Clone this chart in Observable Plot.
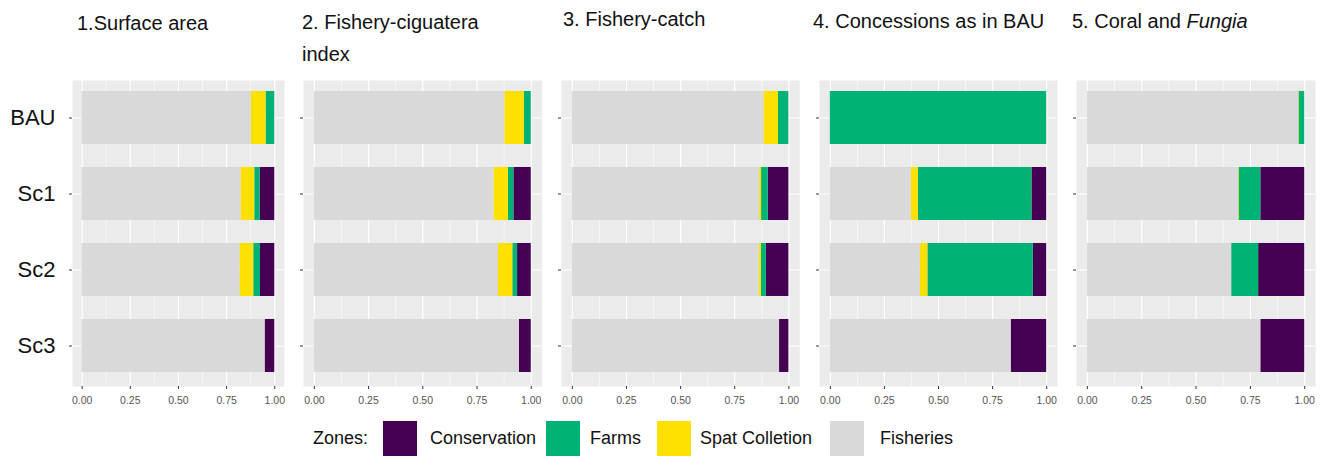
<!DOCTYPE html>
<html>
<head>
<meta charset="utf-8">
<script src="https://cdn.jsdelivr.net/npm/d3@7"></script>
<script src="https://cdn.jsdelivr.net/npm/@observablehq/plot@0.6"></script>
<style>
  html, body { margin: 0; padding: 0; background: #fff; }
  #root { position: relative; width: 1326px; height: 456px; overflow: hidden; background: #fff;
          font-family: "Liberation Sans", Arial, sans-serif; color: #000; }
  .panel { position: absolute; top: 0; }
  .title { position: absolute; font-size: 20px; line-height: 32px; white-space: nowrap; color: #111; }
  .legend { position: absolute; top: 421px; left: 0; height: 35px; }
  .legend .lab { position: absolute; font-size: 18px; line-height: 35px; top: 0; white-space: nowrap; color: #111; }
  .legend .sw { position: absolute; top: 0; width: 34px; height: 35px; }
</style>
</head>
<body>
<div id="root"></div>
<script>
// ---- data ----
const scenarios = ["BAU", "Sc1", "Sc2", "Sc3"];
const zones = ["Conservation", "Farms", "Spat Colletion", "Fisheries"];
const zoneColors = ["#440154", "#00B374", "#FEE100", "#D9D9D9"];
const stackOrder = ["Fisheries", "Spat Colletion", "Farms", "Conservation"];
const xTicks = [0, 0.25, 0.5, 0.75, 1];
const xMinorTicks = [0.125, 0.375, 0.625, 0.875];

// shares per scenario, in order: [Conservation, Farms, Spat Colletion, Fisheries]
const surfaceArea = [
  [0.000, 0.045, 0.076, 0.879],
  [0.076, 0.028, 0.071, 0.825],
  [0.074, 0.035, 0.071, 0.820],
  [0.050, 0.000, 0.000, 0.950]
];
const ciguateraIndex = [
  [0.000, 0.032, 0.090, 0.878],
  [0.080, 0.025, 0.067, 0.828],
  [0.063, 0.022, 0.066, 0.849],
  [0.055, 0.000, 0.000, 0.945]
];
const fisheryCatch = [
  [0.000, 0.048, 0.067, 0.885],
  [0.095, 0.031, 0.009, 0.865],
  [0.104, 0.023, 0.010, 0.863],
  [0.043, 0.000, 0.000, 0.957]
];
const concessionsBAU = [
  [0.000, 1.000, 0.000, 0.000],
  [0.068, 0.525, 0.033, 0.374],
  [0.062, 0.487, 0.035, 0.416],
  [0.164, 0.000, 0.000, 0.836]
];
const coralFungia = [
  [0.000, 0.026, 0.002, 0.972],
  [0.202, 0.100, 0.003, 0.695],
  [0.212, 0.124, 0.000, 0.664],
  [0.202, 0.000, 0.000, 0.798]
];

const panelTitles = [
  "1.Surface area",
  "2. Fishery-ciguatera<br>index",
  "3. Fishery-catch",
  "4. Concessions as in BAU",
  "5. Coral and <i>Fungia</i>"
];
const panelValues = [surfaceArea, ciguateraIndex, fisheryCatch, concessionsBAU, coralFungia];

// ---- layout ----
const bgLeft  = [71.7, 302.9, 560.9, 818.5, 1075.8];
const bgRight = [283.6, 541.5, 799.1, 1056.5, 1314.9];
const titleX  = [77, 302, 563, 813, 1072];
const titleY  = [7, 6, 3, 5, 5];
const H = 420, bgTop = 80, bgBottom = 386;

const root = document.getElementById("root");

function tidy(matrix) {
  const rows = [];
  matrix.forEach((vals, i) => {
    vals.forEach((v, j) => { if (v > 0) rows.push({scen: scenarios[i], zone: zones[j], value: v}); });
  });
  return rows;
}

panelValues.forEach((matrix, p) => {
  const first = p === 0;
  const mL = first ? 72 : 8;
  const mR = 6;
  const w = bgRight[p] - bgLeft[p];
  const unit = w / 1.1;
  const step = (bgBottom - bgTop) / 3.99;
  const chart = Plot.plot({
    width: w + mL + mR,
    height: H,
    marginLeft: mL,
    marginRight: mR,
    marginTop: bgTop,
    marginBottom: H - bgBottom,
    style: {background: "transparent", overflow: "visible", fontFamily: "'Liberation Sans', Arial, sans-serif"},
    x: {domain: [0, 1], inset: unit * 0.05, axis: null, label: null},
    y: {domain: scenarios, range: [bgTop - 0.03 * step, bgBottom - 0.02 * step], paddingInner: 0.309, paddingOuter: 0.1545, axis: null, label: null},
    color: {domain: zones, range: zoneColors},
    marks: [
      Plot.frame({fill: "#EBEBEB", stroke: null}),
      Plot.gridX({ticks: xMinorTicks, stroke: "#ffffff", strokeOpacity: 1, strokeWidth: 0.6}),
      Plot.gridX({ticks: xTicks, stroke: "#ffffff", strokeOpacity: 1, strokeWidth: 1.2}),
      Plot.gridY({stroke: "#ffffff", strokeOpacity: 1, strokeWidth: 1.2}),
      Plot.barX(tidy(matrix), Plot.stackX({x: "value", y: "scen", fill: "zone", order: stackOrder})),
      Plot.axisX({ticks: xTicks, tickFormat: d3.format(".2f"), tickSize: 3, tickPadding: 7, fontSize: 10.5, color: "#555", stroke: "#333", label: null}),
      Plot.axisY({tickSize: 3, tickPadding: 14, fontSize: 22, color: "#111", stroke: "#333", label: null,
                  tickFormat: first ? (d => d) : (() => "")})
    ]
  });
  const holder = document.createElement("div");
  holder.className = "panel";
  holder.style.left = (bgLeft[p] - mL) + "px";
  holder.appendChild(chart);
  root.appendChild(holder);

  const t = document.createElement("div");
  t.className = "title";
  t.style.left = titleX[p] + "px";
  t.style.top = titleY[p] + "px";
  t.innerHTML = panelTitles[p];
  root.appendChild(t);
});

// ---- legend ----
const legend = document.createElement("div");
legend.className = "legend";
root.appendChild(legend);
const swX = [383, 546, 657, 830];
const labX = [430, 590, 700, 880];
const add = (cls, x, text, color) => {
  const e = document.createElement("div");
  e.className = cls; e.style.left = x + "px";
  if (text) e.textContent = text;
  if (color) e.style.background = color;
  legend.appendChild(e);
};
add("lab", 313, "Zones:");
zones.forEach((z, i) => { add("sw", swX[i], null, zoneColors[i]); add("lab", labX[i], z); });
</script>
</body>
</html>
